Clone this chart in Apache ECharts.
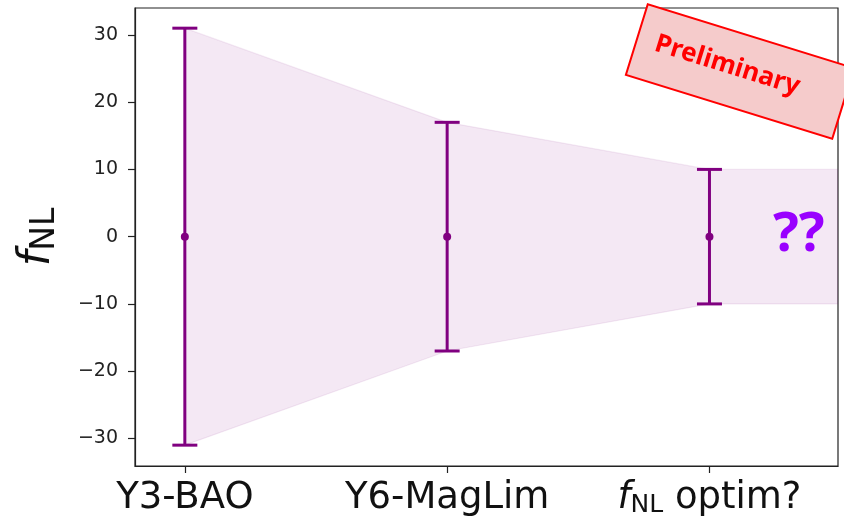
<!DOCTYPE html>
<html>
<head>
<meta charset="utf-8">
<script src="https://cdn.jsdelivr.net/npm/echarts@6/dist/echarts.min.js"></script>
<style>html,body{margin:0;padding:0;background:#fff}#c{width:844px;height:519px}</style>
</head>
<body>
<div id="c"></div>
<script>
// ---- data ----
const categories = ['Y3-BAO', 'Y6-MagLim', 'fNL optim?'];
const catPos = [0, 1, 2];
const centers = [0, 0, 0];
const errors = [31, 17, 10];
const bandX = [0, 1, 2, 2.49];
const bandUpper = [31, 17, 10, 10];
const bandLower = [-31, -17, -10, -10];
const yTicks = [-30, -20, -10, 0, 10, 20, 30];
const xMin = -0.19, xMax = 2.49, yMin = -34.1, yMax = 34;

const chart = echarts.init(document.getElementById('c'), null, {renderer: 'canvas'});
const purple = '#800080';
const axisColor = '#222';

const labelMap = {};
catPos.forEach((p, i) => { labelMap[p] = categories[i]; });

const option = {
  animation: false,
  backgroundColor: '#fff',
  grid: {left: 135, right: 6, top: 8, bottom: 53, outerBoundsMode: 'none', containLabel: false,
    show: true, borderColor: axisColor, borderWidth: 1.2, backgroundColor: 'transparent'},
  xAxis: {
    type: 'value', min: xMin, max: xMax,
    axisLine: {show: true, onZero: false, lineStyle: {color: axisColor, width: 1.2}},
    axisTick: {show: true, customValues: catPos, length: 7, lineStyle: {color: axisColor, width: 1.2}},
    axisLabel: {
      customValues: catPos, margin: 12, color: '#111', fontSize: 37, fontFamily: 'DejaVu Sans',
      formatter: function (v) {
        const s = labelMap[v];
        if (s === 'fNL optim?') return '{i|f}{s|NL}{n| optim?}';
        return '{n|' + s + '}';
      },
      rich: {
        n: {fontSize: 37, fontFamily: 'DejaVu Sans', color: '#111', lineHeight: 40},
        i: {fontSize: 37, fontFamily: 'DejaVu Sans', fontStyle: 'italic', color: '#111', lineHeight: 40},
        s: {fontSize: 25, fontFamily: 'DejaVu Sans', color: '#111', lineHeight: 40, verticalAlign: 'bottom', padding: [14, 0, 0, 0]}
      }
    },
    splitLine: {show: false}
  },
  yAxis: {
    type: 'value', min: yMin, max: yMax,
    name: '{i|f}{s|NL}', nameLocation: 'middle', nameRotate: 90, nameGap: 73,
    nameTextStyle: {
      rich: {
        i: {fontSize: 44, fontFamily: 'DejaVu Sans', fontStyle: 'italic', color: '#111', lineHeight: 48},
        s: {fontSize: 33, fontFamily: 'DejaVu Sans', color: '#111', lineHeight: 48, verticalAlign: 'bottom', padding: [16, 0, 0, 0]}
      }
    },
    axisLine: {show: true, onZero: false, lineStyle: {color: axisColor, width: 1.2}},
    axisTick: {show: true, customValues: yTicks, length: 7, lineStyle: {color: axisColor, width: 1.2}},
    axisLabel: {customValues: yTicks, margin: 17, color: '#222', fontSize: 19, fontFamily: 'DejaVu Sans',
      formatter: v => (v < 0 ? '\u2212' + Math.abs(v) : String(v))},
    splitLine: {show: false}
  },
  series: [
    {
      type: 'custom', name: 'band', z: 1, silent: true, clip: true,
      data: [[bandX[0], bandLower[0], bandUpper[0]]],
      renderItem: function (params, api) {
        const pts = [];
        for (let i = 0; i < bandX.length; i++) pts.push(api.coord([bandX[i], bandUpper[i]]));
        for (let i = bandX.length - 1; i >= 0; i--) pts.push(api.coord([bandX[i], bandLower[i]]));
        return {type: 'polygon', shape: {points: pts}, style: {fill: 'rgba(128,0,128,0.09)', stroke: 'rgba(128,0,128,0.08)', lineWidth: 1.2}};
      }
    },
    {
      type: 'custom', name: 'errorbars', z: 3, silent: true,
      data: catPos.map((p, i) => [p, centers[i], errors[i]]),
      renderItem: function (params, api) {
        const x = api.value(0), c = api.value(1), e = api.value(2);
        const top = api.coord([x, c + e]);
        const bot = api.coord([x, c - e]);
        const mid = api.coord([x, c]);
        const hw = 12.5;
        const ls = {stroke: purple, lineWidth: 3};
        return {type: 'group', children: [
          {type: 'line', shape: {x1: top[0], y1: top[1], x2: bot[0], y2: bot[1]}, style: ls},
          {type: 'line', shape: {x1: top[0] - hw, y1: top[1], x2: top[0] + hw, y2: top[1]}, style: ls},
          {type: 'line', shape: {x1: bot[0] - hw, y1: bot[1], x2: bot[0] + hw, y2: bot[1]}, style: ls},
          {type: 'circle', shape: {cx: mid[0], cy: mid[1], r: 4}, style: {fill: purple}}
        ]};
      }
    }
  ],
  graphic: [
    {type: 'text', left: 773, top: 209, z: 10, style: {text: '??', fill: '#9900ff', font: 'bold 54px "Noto Sans"'}},
    {type: 'group', x: 740, y: 71.5, rotation: -0.30, z: 20, children: [
      {type: 'rect', shape: {x: -108, y: -37, width: 216, height: 74}, style: {fill: '#f5cbcb', stroke: '#ff0000', lineWidth: 2}},
      {type: 'text', x: -14, y: -2, style: {text: 'Preliminary', fill: '#ff0000', font: 'bold 26px "Noto Sans"', align: 'center', verticalAlign: 'middle'}}
    ]}
  ]
};
chart.setOption(option);
</script>
</body>
</html>
